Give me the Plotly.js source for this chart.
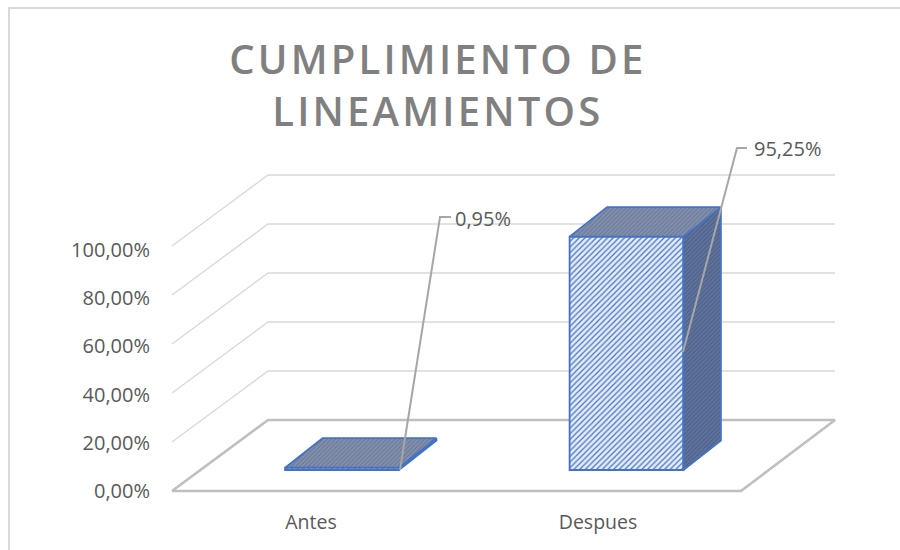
<!DOCTYPE html>
<html><head><meta charset="utf-8">
<script src="https://cdn.plot.ly/plotly-3.0.1.min.js"></script>
<style>html,body{margin:0;padding:0;background:#fff}#c{width:900px;height:550px}
.gtitle{letter-spacing:3.2px}</style>
</head><body><div id="c"></div>
<script>
const categories = ["Antes", "Despues"];
const values = [0.95, 95.25];
const valueLabels = ["0,95%", "95,25%"];
const gridLevels = [20, 40, 60, 80, 100];
const tickValues = [0, 20, 40, 60, 80, 100];
const tickLabels = ["0,00%", "20,00%", "40,00%", "60,00%", "80,00%", "100,00%"];

// Oblique projection parameters (axis units)
const W = 900, H = 550, L = 168, R = 840, B = 495, T = 140, ORIGIN = 491;
const pxU = 284.5, pxV = 2.45, cx0 = 342;
const u = p => (p - cx0) / pxU;           // pixel x -> axis x
const v = p => (ORIGIN - p) / pxV;        // pixel y -> axis y
const barW = 0.4, barBase = v(470);
const dU = 37.5 / pxU, dV = 29.5 / pxV;   // bar depth
const wallU = 96 / pxU, wallV = 71 / pxV; // floor depth
const floorL = u(172), floorR = u(741), backR = u(835);

const labelGap = [[u(400), barBase], [u(683), v(352)]];
const elbowPos = [[u(440), v(217)], [u(737), v(148)]];
const labelEnd = [[u(451), v(217)], [u(747), v(148)]];
const labelPos = [[u(455), v(221)], [u(754), v(151)]];

const GRID = '#d9d9d9', FLOOR = '#bfbfbf', BLUE = '#4472c4', TXT = '#595959';
const traces = [];
const line = (x, y, color, width, over) => traces.push({type:'scatter', mode:'lines', x, y,
  xaxis: over ? 'x2' : 'x', yaxis: over ? 'y2' : 'y',
  line:{color, width}, hoverinfo:'skip', showlegend:false, cliponaxis:false});

// walls gridlines
gridLevels.forEach(g => line([floorL, floorL + wallU, backR], [g, g + wallV, g + wallV], GRID, 1.4));
// floor
line([floorL, floorR, backR, floorL + wallU, floorL],
     [0, 0, wallV, wallV, 0], FLOOR, 2.6);

// bars: front faces (on overlay axes so they cover the gridlines)
const xs = categories.map((c, i) => i);
traces.push({type:'bar', x: xs, y: values, base: values.map(() => barBase), width: barW,
  xaxis:'x2', yaxis:'y2',
  marker:{color:'#dce6f6', line:{color:BLUE, width:1.8},
    pattern:{shape:'/', fgcolor:BLUE, bgcolor:'#e4ecf8', size:4, solidity:0.3}},
  hoverinfo:'skip', showlegend:false});

const poly = (x, y, bg, fg) => traces.push({type:'scatter', mode:'lines', x, y, fill:'toself',
  xaxis:'x2', yaxis:'y2',
  fillcolor:bg, fillpattern:{shape:'/', fgcolor:fg, bgcolor:bg, size:3, solidity:0.35},
  line:{color:BLUE, width:1.8}, hoverinfo:'skip', showlegend:false, cliponaxis:false});

values.forEach((val, i) => {
  const a = xs[i] - barW / 2, b = xs[i] + barW / 2, t = barBase + val;
  poly([b, b + dU, b + dU, b, b], [barBase, barBase + dV, t + dV, t, barBase], '#66738f', '#3f5f9f');
  poly([a, a + dU, b + dU, b, a], [t, t + dV, t + dV, t, t], '#8b909c', '#5a78b4');
});

// leader lines & data labels
values.forEach((val, i) => {
  line([labelGap[i][0], elbowPos[i][0], labelEnd[i][0]],
       [labelGap[i][1], elbowPos[i][1], labelEnd[i][1]], '#a6a6a6', 2, true);
});
traces.push({type:'scatter', mode:'text', x: labelPos.map(p => p[0]), y: labelPos.map(p => p[1]),
  xaxis:'x2', yaxis:'y2',
  text: valueLabels, textposition:'middle right',
  textfont:{family:'Open Sans', size:20, color:TXT}, hoverinfo:'skip', showlegend:false, cliponaxis:false});

const px = x => (x - L) / (R - L), py = y => (B - y) / (B - T);
const xRange = [u(L), u(R)], yRange = [v(B), v(T)];
const labelScale = 0.984;
const layout = {
  width: W, height: H, showlegend:false,
  margin:{l:L, r:W - R, t:T, b:H - B, pad:0},
  paper_bgcolor:'#fff', plot_bgcolor:'rgba(0,0,0,0)',
  title:{text:'CUMPLIMIENTO DE<br>LINEAMIENTOS', x:0.4865, xanchor:'center', y:0.866, yanchor:'middle',
    font:{family:'Open Sans', size:40, color:'#808080', weight:600}},
  xaxis:{range:xRange, showgrid:false, zeroline:false, showline:false, ticks:'outside', ticklen:10, tickcolor:'rgba(0,0,0,0)',
    tickmode:'array', tickvals:[u(311), u(598)], ticktext:categories,
    tickfont:{family:'Open Sans', size:19.5, color:TXT}},
  yaxis:{range:yRange, showgrid:false, zeroline:false, showline:false, ticks:'outside', ticklen:13, tickcolor:'rgba(0,0,0,0)',
    tickmode:'array', tickvals:tickValues.map(t => t * labelScale), ticktext:tickLabels,
    tickfont:{family:'Open Sans', size:20, color:TXT}},
  xaxis2:{range:xRange, overlaying:'x', visible:false},
  yaxis2:{range:yRange, overlaying:'y', visible:false},
  shapes:[{type:'path', xref:'paper', yref:'paper',
    path:`M ${px(9)} ${py(550)} L ${px(9)} ${py(8)} L ${px(900)} ${py(8)}`,
    line:{color:'#d9d9d9', width:2}}]
};
Plotly.newPlot('c', traces, layout, {displayModeBar:false, staticPlot:true});
</script></body></html>
